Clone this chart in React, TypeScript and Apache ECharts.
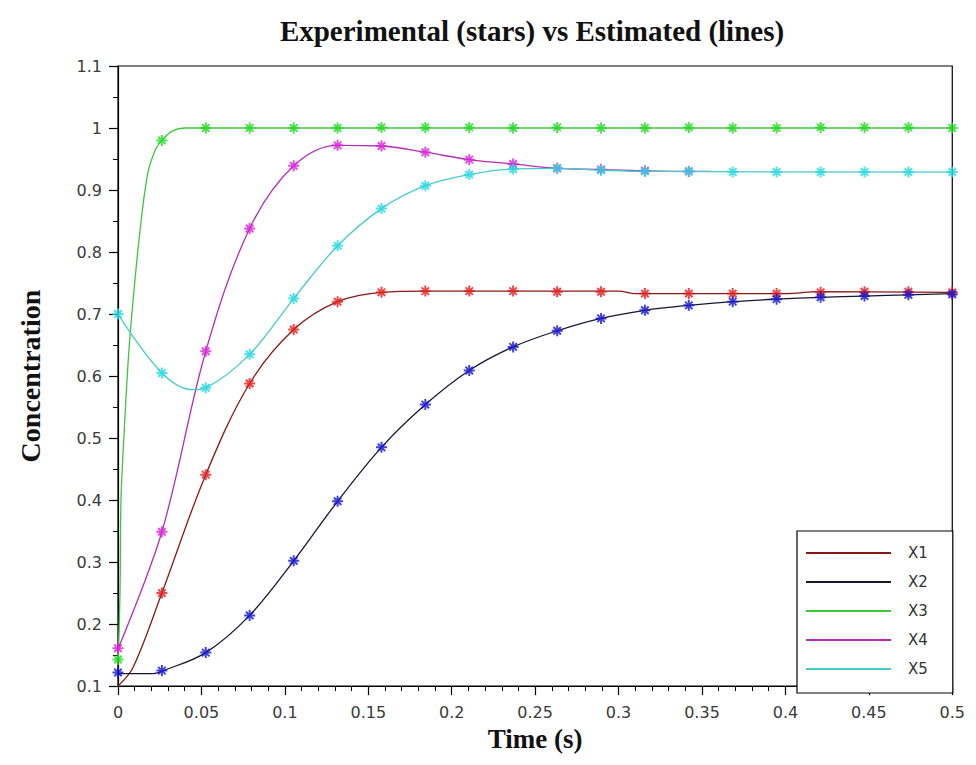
import React, { useEffect, useRef } from "react";
import * as echarts from "echarts";

const seriesNames = ["X1", "X2", "X3", "X4", "X5"];

// experimental sample times (s)
const expTime = [0, 0.0263, 0.0526, 0.0789, 0.1053, 0.1316, 0.1579, 0.1842, 0.2105, 0.2368, 0.2632, 0.2895, 0.3158, 0.3421, 0.3684, 0.3947, 0.4211, 0.4474, 0.4737, 0.5];

// experimental values (stars)
const expX1 = [null, 0.25, 0.441, 0.588, 0.675, 0.72, 0.735, 0.737, 0.737, 0.737, 0.736, 0.736, 0.733, 0.733, 0.733, 0.733, 0.735, 0.736, 0.736, 0.735];
const expX2 = [0.122, 0.125, 0.154, 0.214, 0.302, 0.398, 0.485, 0.554, 0.609, 0.647, 0.673, 0.693, 0.706, 0.714, 0.72, 0.724, 0.727, 0.729, 0.731, 0.732];
const expX3 = [0.143, 0.98, 1.0, 1.0, 1.0, 1.0, 1.001, 1.001, 1.001, 1.0, 1.001, 1.0, 1.0, 1.001, 1.0, 1.0, 1.001, 1.001, 1.001, 1.0];
const expX4 = [0.161, 0.349, 0.64, 0.838, 0.939, 0.972, 0.971, 0.961, 0.949, 0.942, 0.935, 0.933, 0.931, 0.93];
const expX5 = [0.7, 0.605, 0.581, 0.635, 0.725, 0.81, 0.87, 0.907, 0.925, 0.934, 0.935, 0.932, 0.93, 0.93, 0.929, 0.929, 0.929, 0.929, 0.929, 0.929];

// estimated curves (lines): [time, value]
const estX1 = [[0, 0.1], [0.009, 0.13], [0.0263, 0.25], [0.0526, 0.441], [0.0789, 0.588], [0.1053, 0.675], [0.1316, 0.72], [0.1579, 0.735], [0.1842, 0.737], [0.3, 0.737], [0.31, 0.733], [0.4, 0.733], [0.42, 0.736], [0.5, 0.735]];
const estX2 = [[0, 0.12], [0.021, 0.12], [0.0263, 0.124], [0.0526, 0.154], [0.0789, 0.214], [0.1053, 0.302], [0.1316, 0.398], [0.1579, 0.485], [0.1842, 0.554], [0.2105, 0.609], [0.2368, 0.647], [0.2632, 0.673], [0.2895, 0.693], [0.3158, 0.706], [0.3421, 0.714], [0.3684, 0.72], [0.3947, 0.724], [0.4211, 0.727], [0.4474, 0.729], [0.4737, 0.731], [0.5, 0.733]];
const estX3 = [[0, 0.14], [0.0012, 0.25], [0.0018, 0.4], [0.0035, 0.5], [0.006, 0.62], [0.0083, 0.7], [0.013, 0.83], [0.0177, 0.925], [0.0224, 0.965], [0.0263, 0.98], [0.0325, 0.995], [0.04, 1.0], [0.5, 1.0]];
const estX4 = [[0, 0.16], [0.0263, 0.349], [0.0526, 0.64], [0.0789, 0.838], [0.1053, 0.939], [0.1316, 0.972], [0.1579, 0.971], [0.1842, 0.961], [0.2105, 0.949], [0.2368, 0.942], [0.2632, 0.935], [0.2895, 0.933], [0.3158, 0.931], [0.3421, 0.93], [0.355, 0.93]];
const estX5 = [[0, 0.7], [0.0263, 0.605], [0.045, 0.578], [0.0526, 0.581], [0.0789, 0.635], [0.1053, 0.725], [0.1316, 0.81], [0.1579, 0.87], [0.1842, 0.907], [0.2105, 0.925], [0.2368, 0.934], [0.2632, 0.935], [0.2895, 0.932], [0.3158, 0.93], [0.5, 0.929]];

const lineColors = ["#8a1818", "#161634", "#3cc83c", "#b52eb5", "#44cccc"];
const starColors = ["#e41c1c", "#1414d0", "#22d822", "#d822d8", "#26d8e0"];

const STAR = "path://M5,0 L5,10 M0,5 L10,5 M1.6,1.6 L8.4,8.4 M1.6,8.4 L8.4,1.6";
const SERIF = "Liberation Serif";
const SANS = "DejaVu Sans";

export default function App() {
  const ref = useRef<HTMLDivElement>(null);
  useEffect(() => {
    if (!ref.current) return;
    const chart = echarts.init(ref.current, null, { renderer: "svg" });
    const est = [estX1, estX2, estX3, estX4, estX5];
    const exp = [expX1, expX2, expX3, expX4, expX5];
    const lineSeries = seriesNames.map((n, i) => ({
      name: n,
      type: "line",
      data: est[i],
      showSymbol: false,
      smooth: 0.35,
      color: lineColors[i],
      lineStyle: { color: lineColors[i], width: 1.3 },
      z: 2,
    }));
    const starSeries = seriesNames.map((n, i) => ({
      name: n + " exp",
      type: "scatter",
      data: exp[i].map((v, k) => [expTime[k], v]).filter((p) => p[1] !== null),
      symbol: STAR,
      symbolSize: 11,
      itemStyle: { color: starColors[i], borderColor: starColors[i], borderWidth: 2 },
      z: 3,
    }));
    const axisLabel = {
      fontFamily: SANS,
      fontSize: 16,
      color: "#3a3a3a",
      formatter: (v: number) => String(+v.toFixed(2)),
    };
    chart.setOption({
      animation: false,
      backgroundColor: "#ffffff",
      title: {
        text: "Experimental (stars) vs Estimated (lines)",
        left: 519,
        top: 3,
        textAlign: "center",
        textStyle: { fontFamily: SERIF, fontWeight: "bold", fontSize: 29, color: "#111" },
      },
      grid: { left: 102, right: 10, top: 58, bottom: 57, show: true, borderColor: "#000", borderWidth: 1.2 },
      legend: {
        data: seriesNames,
        orient: "vertical",
        left: 789,
        top: 523,
        icon: "rect",
        itemWidth: 85,
        itemHeight: 2,
        itemGap: 13,
        padding: [14, 25, 16, 9],
        borderColor: "#000",
        borderWidth: 1.2,
        backgroundColor: "#fff",
        selectedMode: false,
        textStyle: { fontFamily: SANS, fontSize: 15, color: "#333", lineHeight: 16, padding: [0, 0, 0, 12] },
      },
      xAxis: {
        type: "value",
        min: 0,
        max: 0.5,
        interval: 0.05,
        name: "Time (s)",
        nameLocation: "middle",
        nameGap: 38,
        nameTextStyle: { fontFamily: SERIF, fontWeight: "bold", fontSize: 27, color: "#111" },
        axisLine: { show: true, lineStyle: { color: "#000", width: 1.2 } },
        axisTick: { show: true, length: 9, lineStyle: { color: "#000", width: 1.2 } },
        minorTick: { show: true, splitNumber: 5, length: 5, lineStyle: { color: "#000", width: 1 } },
        splitLine: { show: false },
        axisLabel: { ...axisLabel, margin: 18 },
      },
      yAxis: {
        type: "value",
        min: 0.1,
        max: 1.1,
        interval: 0.1,
        name: "Concentration",
        nameLocation: "middle",
        nameGap: 74,
        nameTextStyle: { fontFamily: SERIF, fontWeight: "bold", fontSize: 28, color: "#111" },
        axisLine: { show: true, lineStyle: { color: "#000", width: 1.2 } },
        axisTick: { show: true, length: 9, lineStyle: { color: "#000", width: 1.2 } },
        minorTick: { show: true, splitNumber: 2, length: 5, lineStyle: { color: "#000", width: 1 } },
        splitLine: { show: false },
        axisLabel: { ...axisLabel, margin: 16 },
      },
      series: [...lineSeries, ...starSeries],
    });
    return () => chart.dispose();
  }, []);
  return <div ref={ref} style={{ width: 960, height: 749 }} />;
}
